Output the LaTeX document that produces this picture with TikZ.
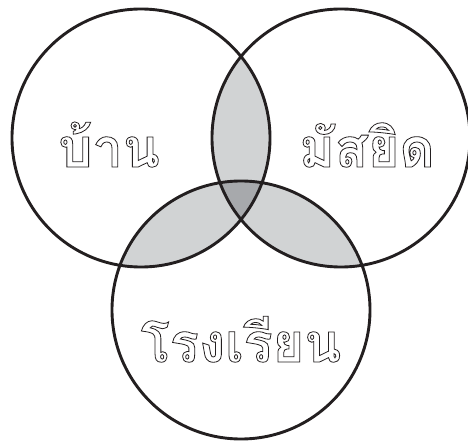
\documentclass[tikz,border=0pt]{standalone}
\usepackage{fontspec}
\newfontfamily\thaifont[Script=Thai]{Loma}
\definecolor{ink}{HTML}{231F20}
\definecolor{lensgray}{HTML}{D1D3D4}
\definecolor{coregray}{HTML}{A7A9AC}
% hollow letters: stroke only
\newcommand{\hollowtext}[1]{\special{pdf:literal direct 1 Tr 0.8 w 0.137 0.122 0.125 RG}#1\special{pdf:literal direct 0 Tr}}
\begin{document}
\begin{tikzpicture}[x=1pt,y=1pt,
  ring/.style={line width=2.9pt,draw=ink},
  word/.style={font=\thaifont\bfseries\fontsize{54}{66}\selectfont,inner sep=0pt,anchor=base,text=ink}]
\useasboundingbox (0,0) rectangle (468,442);
\def\rr{129}
\coordinate (home) at (141,304);
\coordinate (mosque) at (341,304);
\coordinate (school) at (241,132);
% pairwise overlaps
\begin{scope}
\clip (home) circle[radius=\rr];
\fill[lensgray] (mosque) circle[radius=\rr];
\fill[lensgray] (school) circle[radius=\rr];
\end{scope}
\begin{scope}
\clip (mosque) circle[radius=\rr];
\fill[lensgray] (school) circle[radius=\rr];
\end{scope}
% all three
\begin{scope}
\clip (home) circle[radius=\rr];
\clip (mosque) circle[radius=\rr];
\fill[coregray] (school) circle[radius=\rr];
\end{scope}
\draw[ring] (home) circle[radius=\rr] (mosque) circle[radius=\rr] (school) circle[radius=\rr];
\node[word] (baan) at (109,275) {\hollowtext{บ้าน}};
\node[word] (masjid) at (367,275) {\hollowtext{มัสยิด}};
\node[word] (rongrian) at (241,80) {\hollowtext{โรงเรียน}};
\end{tikzpicture}
\end{document}
